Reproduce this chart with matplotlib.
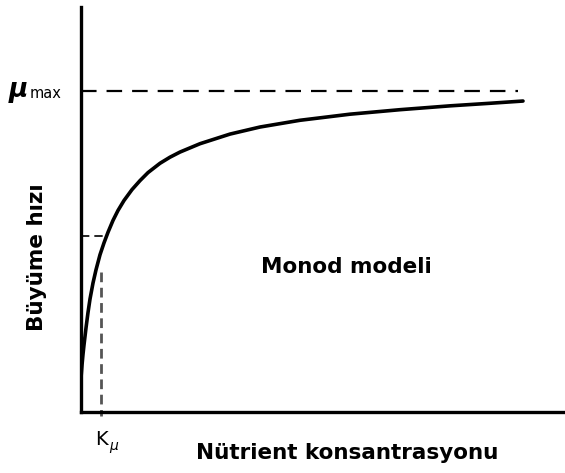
import matplotlib
matplotlib.use("Agg")
import matplotlib.pyplot as plt

# Curve (concentration in arbitrary units, K = 1; growth rate relative to mu_max)
conc = [0, 0.05, 0.1, 0.15, 0.25, 0.35, 0.45, 0.6, 0.75, 0.95, 1.15, 1.35, 1.6,
        1.85, 2.15, 2.55, 2.95, 3.35, 3.95, 4.45, 4.95, 5.95, 7.45, 8.95,
        10.95, 13.45, 15.95, 18.45, 20.45, 22.1]
rate = [0.106, 0.146, 0.180, 0.209, 0.262, 0.310, 0.352, 0.402, 0.443, 0.490,
        0.527, 0.560, 0.597, 0.628, 0.659, 0.693, 0.721, 0.746, 0.775, 0.794,
        0.810, 0.836, 0.866, 0.888, 0.909, 0.928, 0.942, 0.954, 0.962, 0.969]
mu_max = 1.0
mu_max_line_end = 21.85
half_level = 0.548
half_line_end = 1.2
k_mu = 1.0
k_mu_top = 0.436

W, H = 565, 473
fig = plt.figure(figsize=(W / 100, H / 100), dpi=100)
left, bottom, right, top = 81, 412, 565, 7
ax = fig.add_axes([left / W, 1 - bottom / H, (right - left) / W, (bottom - top) / H])
ax.set_xlim(0, 24.2)
ax.set_ylim(0, 1.262)
for s in ["top", "right"]:
    ax.spines[s].set_visible(False)
for s in ["left", "bottom"]:
    ax.spines[s].set_linewidth(2.4)
    ax.spines[s].set_color("black")
ax.set_xticks([])
ax.set_yticks([])

ax.plot(conc, rate, color="black", lw=2.6, solid_capstyle="round",
        solid_joinstyle="round", zorder=3)
ax.plot([0, mu_max_line_end], [mu_max, mu_max], color="black", lw=1.6,
        dashes=(7, 4.5), zorder=2)
ax.plot([0, half_line_end], [half_level, half_level], color="black", lw=1.2,
        dashes=(5, 3), zorder=2)
ax.plot([k_mu, k_mu], [k_mu_top, -0.012], color="#555555", lw=2.0,
        dashes=(3.5, 2), zorder=2, clip_on=False)

fs = "DejaVu Sans"
fig.text(9 / W, 1 - 90 / H, "μ", fontsize=19, ha="left", va="center",
         fontweight="bold", style="italic", family=fs)
fig.text(30 / W, 1 - 94 / H, "max", fontsize=10.5, ha="left", va="center", family=fs)

fig.text(95 / W, 1 - 439 / H, "K", fontsize=14, ha="left", va="center", family=fs)
fig.text(109 / W, 1 - 446 / H, "μ", fontsize=10, ha="left", va="center",
         style="italic", family=fs)

fig.text(347 / W, 1 - 453 / H, "Nütrient konsantrasyonu", fontsize=15.5,
         fontweight="bold", ha="center", va="center", family=fs)
fig.text(346 / W, 1 - 267 / H, "Monod modeli", fontsize=15.5,
         fontweight="bold", ha="center", va="center", family=fs)
fig.text(37 / W, 1 - 257 / H, "Büyüme hızı", fontsize=15.5, rotation=90,
         fontweight="bold", ha="center", va="center", family=fs)

fig.savefig("out.png", dpi=100)
